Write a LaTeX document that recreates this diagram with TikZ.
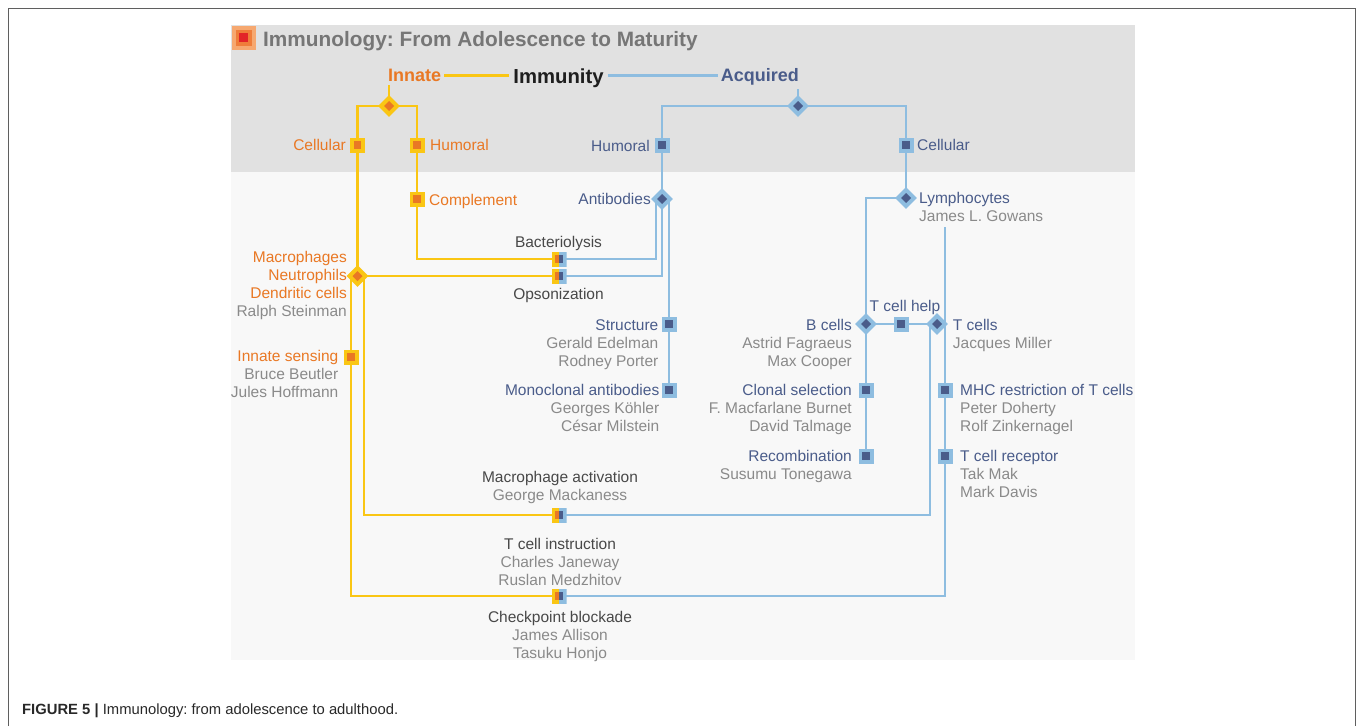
\documentclass[tikz,border=0pt]{standalone}
\usepackage{fontspec}
\setmainfont{Liberation Sans}
\frenchspacing
\usetikzlibrary{shapes.geometric}
\definecolor{ylw}{RGB}{250,198,20}
\definecolor{org}{RGB}{233,120,36}
\definecolor{lbl}{RGB}{142,189,224}
\definecolor{dbl}{RGB}{74,92,138}
\definecolor{gry}{RGB}{138,138,138}
\definecolor{dgr}{RGB}{72,72,72}
\definecolor{pnl}{RGB}{225,225,225}
\definecolor{pnlb}{RGB}{248,248,248}
\definecolor{ttl}{RGB}{118,118,118}
\definecolor{frm}{RGB}{95,95,95}
\definecolor{icoa}{RGB}{246,168,112}
\definecolor{icob}{RGB}{239,125,58}
\definecolor{icoc}{RGB}{226,36,40}
\pgfdeclarelayer{bg}\pgfdeclarelayer{ln}\pgfsetlayers{bg,ln,main}
\tikzset{
  fnt/.style={font=\fontsize{15.5}{18}\selectfont},
  lab/.style={fnt, inner sep=0pt, text=gry},
  ysq/.style={rectangle, fill=ylw, minimum size=15pt, inner sep=0pt,
    path picture={\fill[org] ([shift={(-3.8pt,-3.8pt)}]path picture bounding box.center) rectangle ++(7.6pt,7.6pt);}},
  bsq/.style={rectangle, fill=lbl, minimum size=15pt, inner sep=0pt,
    path picture={\fill[dbl] ([shift={(-3.8pt,-3.8pt)}]path picture bounding box.center) rectangle ++(7.6pt,7.6pt);}},
  ydia/.style={diamond, fill=ylw, minimum width=22pt, minimum height=22pt, inner sep=0pt,
    path picture={\fill[org] (path picture bounding box.center) +(0,5pt) -- +(5pt,0) -- +(0,-5pt) -- +(-5pt,0) -- cycle;}},
  bdia/.style={diamond, fill=lbl, minimum width=22pt, minimum height=22pt, inner sep=0pt,
    path picture={\fill[dbl] (path picture bounding box.center) +(0,5pt) -- +(5pt,0) -- +(0,-5pt) -- +(-5pt,0) -- cycle;}},
  dual/.style={rectangle, minimum width=15pt, minimum height=15pt, inner sep=0pt,
    path picture={
      \fill[ylw] (path picture bounding box.south west) rectangle (path picture bounding box.north);
      \fill[lbl] (path picture bounding box.south) rectangle (path picture bounding box.north east);
      \fill[org] ([shift={(-3.8pt,-3.8pt)}]path picture bounding box.center) rectangle ([shift={(0pt,3.8pt)}]path picture bounding box.center);
      \fill[dbl] ([shift={(0pt,-3.8pt)}]path picture bounding box.center) rectangle ([shift={(3.8pt,3.8pt)}]path picture bounding box.center);}},
  yl/.style={draw=ylw, line width=2.6pt},
  bl/.style={draw=lbl, line width=2.6pt},
}
\begin{document}
\begin{tikzpicture}[x=1pt,y=-1pt]
\useasboundingbox (0,0) rectangle (1357,726);
% frame and panels
\begin{pgfonlayer}{bg}
\fill[pnlb] (231,172) rectangle (1135,660);
\fill[pnl] (231,25) rectangle (1135,172);
\draw[frm, line width=1.4pt] (8.3,726) -- (8.3,8.3) -- (1355.7,8.3) -- (1355.7,726);
\end{pgfonlayer}
% title
\node[rectangle, fill=icoa, minimum size=24pt, inner sep=0pt,
  path picture={\fill[icob] ([shift={(-8pt,-8pt)}]path picture bounding box.center) rectangle ++(16pt,16pt);
                \fill[icoc] ([shift={(-4.2pt,-4.2pt)}]path picture bounding box.center) rectangle ++(8.4pt,8.4pt);}]
  (ico) at (243.5,37.5) {};
\node[anchor=base west, inner sep=0pt, font=\fontsize{20.8}{24}\selectfont\bfseries, text=ttl] (title) at (263,46.5) {Immunology: From Adolescence to Maturity};
% header words
\node[anchor=base west, inner xsep=3pt, inner ysep=0pt, font=\fontsize{18}{20}\selectfont\bfseries, text=org] (innate) at (385,81.7) {Innate};
\node[anchor=base, inner xsep=4pt, inner ysep=0pt, font=\fontsize{20.3}{22}\selectfont\bfseries, text={rgb,255:red,30;green,30;blue,30}] (immunity) at (558.5,83) {Immunity};
\node[anchor=base east, inner xsep=3pt, inner ysep=0pt, font=\fontsize{18}{20}\selectfont\bfseries, text=dbl] (acquired) at (802,81.7) {Acquired};
\coordinate (innbot) at ([yshift=-3pt]innate.south);
\coordinate (acqbot) at ([yshift=-3pt]acquired.south);
% innate markers
\node[ydia] (idia) at (389,106) {};
\node[ysq] (icel) at (357.5,145) {};
\node[ysq] (ihum) at (417,145) {};
\node[ysq] (compl) at (417,199) {};
\node[ydia] (neut) at (357.5,276) {};
\node[ysq] (isens) at (351,357) {};
% dual markers
\node[dual] (bact) at (559,259) {};
\node[dual] (opso) at (559,276) {};
\node[dual] (mact) at (559,515) {};
\node[dual] (ckpt) at (559,596) {};
% acquired markers
\node[bdia] (adia) at (798,106) {};
\node[bsq] (ahum) at (662,145) {};
\node[bsq] (acel) at (906,145) {};
\node[bdia] (abd) at (662,199) {};
\node[bsq] (struct) at (669,324) {};
\node[bsq] (mono) at (669,390) {};
\node[bdia] (lym) at (906,198) {};
\node[bdia] (bcell) at (866,324) {};
\node[bsq] (help) at (901,324) {};
\node[bdia] (tcell) at (937,324) {};
\node[bsq] (clonal) at (866,390) {};
\node[bsq] (recomb) at (866,456) {};
\node[bsq] (mhc) at (945,390) {};
\node[bsq] (tcr) at (945,456) {};
\coordinate (tcstart) at (945,227);
% connectors
\begin{pgfonlayer}{ln}
\draw[yl] (innate.east) -- (innate.east -| immunity.west);
\draw[bl] (innate.east -| immunity.east) -- (innate.east -| acquired.west);
\draw[yl] (idia.center) -- (idia.center |- innbot);
\draw[bl] (adia.center) -- (adia.center |- acqbot);
\draw[yl] (icel.center) |- (idia.center) -| (ihum.center);
\draw[yl] (ihum.center) -- (compl.center) |- (bact.center);
\draw[yl] (icel.center) -- (neut.center) -- (opso.center);
\draw[yl] (isens.center |- neut.center) -- (isens.center) |- (ckpt.center);
\draw[yl] ([xshift=6.5pt]neut.center) |- (mact.center);
\draw[bl] (ahum.center) |- (adia.center) -| (acel.center);
\draw[bl] (ahum.center) -- (abd.center);
\draw[bl] (acel.center) -- (lym.center);
\draw[bl] ([xshift=-6pt]abd.center) |- (bact.center);
\draw[bl] (abd.center) |- (opso.center);
\draw[bl] ([xshift=7pt]abd.center) -- (struct.center) -- (mono.center);
\draw[bl] (lym.center) -| (bcell.center);
\draw[bl] (bcell.center) -- (recomb.center);
\draw[bl] (bcell.center) -- (tcell.center);
\draw[bl] ([xshift=-7pt]tcell.center) |- (mact.center);
\draw[bl] (tcstart) |- (ckpt.center);
\end{pgfonlayer}
% labels, innate side (multi-line nodes are anchored at the baseline of their last line)
\node[lab, anchor=base east, text=org] (tcel) at (346,150.5) {Cellular};
\node[lab, anchor=base west, text=org] (thum) at (430,150.5) {Humoral};
\node[lab, anchor=base west, text=org] (tcompl) at (429,205) {Complement};
\node[lab, anchor=base east, align=right] (tneut) at (347,316) {{\color{org}Macrophages}\\{\color{org}Neutrophils}\\{\color{org}Dendritic cells}\\Ralph Steinman};
\node[lab, anchor=base east, align=right] (tsens) at (338.5,397) {{\color{org}Innate sensing}\\Bruce Beutler\\Jules Hoffmann};
% labels, shared
\node[lab, anchor=base, text=dgr] (tbact) at (558.5,247) {Bacteriolysis};
\node[lab, anchor=base, text=dgr] (topso) at (558.5,299) {Opsonization};
\node[lab, anchor=base, align=center] (tmact) at (560,500) {{\color{dgr}Macrophage activation}\\George Mackaness};
\node[lab, anchor=base, align=center] (tinst) at (560,585) {{\color{dgr}T cell instruction}\\Charles Janeway\\Ruslan Medzhitov};
\node[lab, anchor=base, align=center] (tckpt) at (560,658) {{\color{dgr}Checkpoint blockade}\\James Allison\\Tasuku Honjo};
% labels, acquired side
\node[lab, anchor=base east, text=dbl] (tahum) at (650,151) {Humoral};
\node[lab, anchor=base west, text=dbl] (tacel) at (917,150.7) {Cellular};
\node[lab, anchor=base east, text=dbl] (tabd) at (651,204.5) {Antibodies};
\node[lab, anchor=base west, align=left] (tlym) at (919,221.5) {{\color{dbl}Lymphocytes}\\James L. Gowans};
\node[lab, anchor=base east, align=right] (tstruct) at (658.5,366) {{\color{dbl}Structure}\\Gerald Edelman\\Rodney Porter};
\node[lab, anchor=base east, align=right] (tmono) at (659.5,431.5) {{\color{dbl}Monoclonal antibodies}\\Georges Köhler\\César Milstein};
\node[lab, anchor=base east, align=right] (tbcell) at (852,366) {{\color{dbl}B cells}\\Astrid Fagraeus\\Max Cooper};
\node[lab, anchor=base, text=dbl] (thelp) at (905,311.7) {T cell help};
\node[lab, anchor=base west, align=left] (ttcell) at (952.7,348) {{\color{dbl}T cells}\\Jacques Miller};
\node[lab, anchor=base east, align=right] (tclonal) at (852,431.5) {{\color{dbl}Clonal selection}\\F. Macfarlane Burnet\\David Talmage};
\node[lab, anchor=base east, align=right] (trecomb) at (852,479.5) {{\color{dbl}Recombination}\\Susumu Tonegawa};
\node[lab, anchor=base west, align=left] (tmhc) at (960,431.5) {{\color{dbl}MHC restriction of T cells}\\Peter Doherty\\Rolf Zinkernagel};
\node[lab, anchor=base west, align=left] (ttcr) at (960,497.5) {{\color{dbl}T cell receptor}\\Tak Mak\\Mark Davis};
% caption
\node[anchor=base west, inner sep=0pt, font=\fontsize{14.8}{18}\selectfont, text={rgb,255:red,40;green,40;blue,40}] (caption) at (22,714) {\textbf{FIGURE 5 |} Immunology: from adolescence to adulthood.};
\end{tikzpicture}
\end{document}
